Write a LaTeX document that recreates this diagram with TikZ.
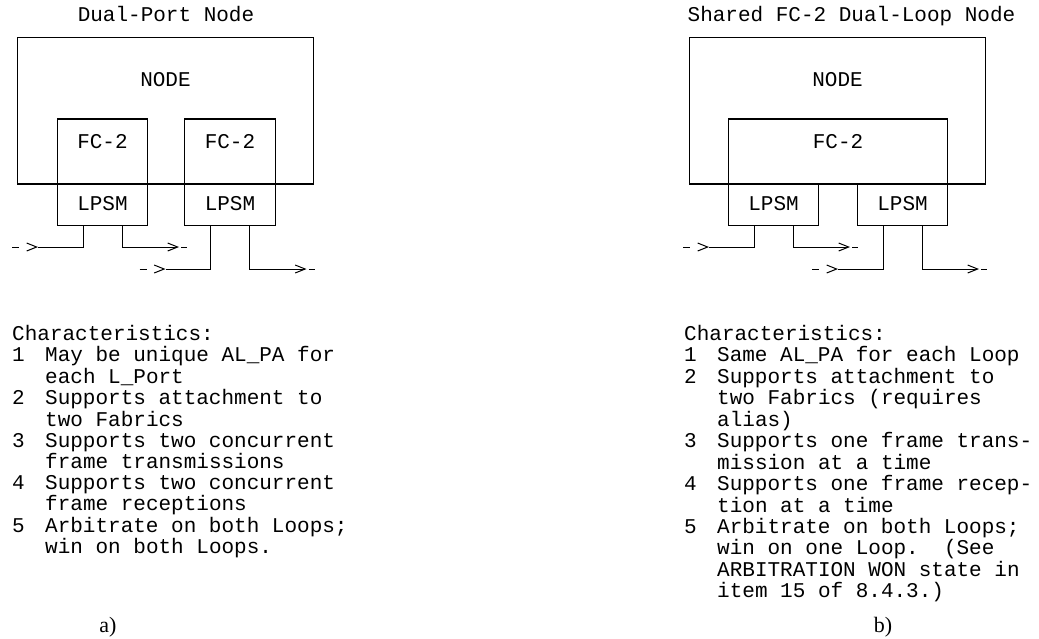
\documentclass[tikz,border=0pt]{standalone}
\usepackage{fontspec}
\setmainfont{Liberation Serif}
\setmonofont{Liberation Mono}
\usetikzlibrary{arrows.meta,positioning}
\newcommand{\diagfont}{\ttfamily\fontsize{21}{20.8}\selectfont}
\newcommand{\capfont}{\rmfamily\fontsize{22}{22}\selectfont}

\begin{document}
\begin{tikzpicture}[
    x=1pt, y=-1pt,
    font=\diagfont,
    wire/.style={line width=1pt},
    heavyedge/.style={line width=2.4pt},
    unitbox/.style={draw, line width=1pt, inner sep=0pt, text height=12pt},
    hostbox/.style={unitbox, minimum width=296pt, minimum height=146pt, text depth=60pt},
    fcbox/.style={unitbox, minimum height=64pt, text depth=18pt},
    lpsmbox/.style={unitbox, minimum width=90pt, minimum height=40.5pt, text depth=0pt},
    lbl/.style={inner sep=0pt, text height=12pt, text depth=0pt},
    loopend/.style={line width=1pt, -{Straight Barb[length=10pt,width=8pt]}},
    loopstub/.style={loopend, dash pattern=on 7pt off 40pt}
  ]
  \useasboundingbox (0,0) rectangle (1039,638);

  % a) dual-port node
  \node[lbl] (titleA) at (166,15) {Dual-Port Node};
  \node[hostbox, anchor=north west] (hostA) at (17,37) {NODE};
  \node[fcbox, minimum width=90pt, anchor=north west] (fcA1) at (57,119) {FC-2};
  \node[fcbox, minimum width=91pt, anchor=north west] (fcA2) at (184,119) {FC-2};
  \node[lpsmbox, below=0pt of fcA1] (lpsmA1) {LPSM};
  \node[lpsmbox, minimum width=91pt, below=0pt of fcA2] (lpsmA2) {LPSM};
  \draw[heavyedge] (hostA.south west) -- (hostA.south east);
  \draw[heavyedge] (fcA1.north west) -- (fcA1.north east);
  \draw[heavyedge] (fcA2.north west) -- (fcA2.north east);

  % b) shared FC-2 dual-loop node
  \node[lbl] (titleB) at (851.5,15) {Shared FC-2 Dual-Loop Node};
  \node[hostbox, anchor=north west] (hostB) at (689,37) {NODE};
  \node[fcbox, minimum width=219pt, anchor=north west] (fcB) at (728,119) {FC-2};
  \node[lpsmbox, below right=0pt and 0pt of fcB.south west] (lpsmB1) {LPSM};
  \node[lpsmbox, below left=0pt and 0pt of fcB.south east] (lpsmB2) {LPSM};
  \draw[heavyedge] (hostB.south west) -- (hostB.south east);
  \draw[heavyedge] (fcB.north west) -- (fcB.north east);

  % loop in / out
  \foreach \lp/\dy in {lpsmA1/21.5, lpsmA2/43.5, lpsmB1/21.5, lpsmB2/43.5} {
    \draw[wire] ([xshift=-19.5pt]\lp.south) -- ++(0,\dy) -- ++(-45,0) coordinate (\lp-in);
    \draw[loopstub] ([xshift=-26pt]\lp-in) -- (\lp-in);
    \draw[loopend] ([xshift=19.5pt]\lp.south) -- ++(0,\dy) -- ++(57,0) coordinate (\lp-out);
    \draw[wire] ([xshift=2pt]\lp-out) -- ++(6,0);
  }

  \node[anchor=north west, inner sep=0pt] (charsA) at (12,325) {%
    \begin{tabular}{@{}p{33pt}@{}l@{}}
    \multicolumn{2}{@{}l@{}}{Characteristics:}\\
    1 & May be unique AL\_PA for\\
      & each L\_Port\\
    2 & Supports attachment to\\
      & two Fabrics\\
    3 & Supports two concurrent\\
      & frame transmissions\\
    4 & Supports two concurrent\\
      & frame receptions\\
    5 & Arbitrate on both Loops;\\
      & win on both Loops.
    \end{tabular}};
  \node[anchor=north west, inner sep=0pt] (charsB) at (684,325) {%
    \begin{tabular}{@{}p{33pt}@{}l@{}}
    \multicolumn{2}{@{}l@{}}{Characteristics:}\\
    1 & Same AL\_PA for each Loop\\
    2 & Supports attachment to\\
      & two Fabrics (requires\\
      & alias)\\
    3 & Supports one frame trans-\\
      & mission at a time\\
    4 & Supports one frame recep-\\
      & tion at a time\\
    5 & Arbitrate on both Loops;\\
      & win on one Loop.\ \ (See\\
      & ARBITRATION WON state in\\
      & item 15 of 8.4.3.)
    \end{tabular}};

  \node[lbl, font=\capfont] (capA) at (108,626) {a)};
  \node[lbl, font=\capfont] (capB) at (883,626) {b)};
\end{tikzpicture}
\end{document}
